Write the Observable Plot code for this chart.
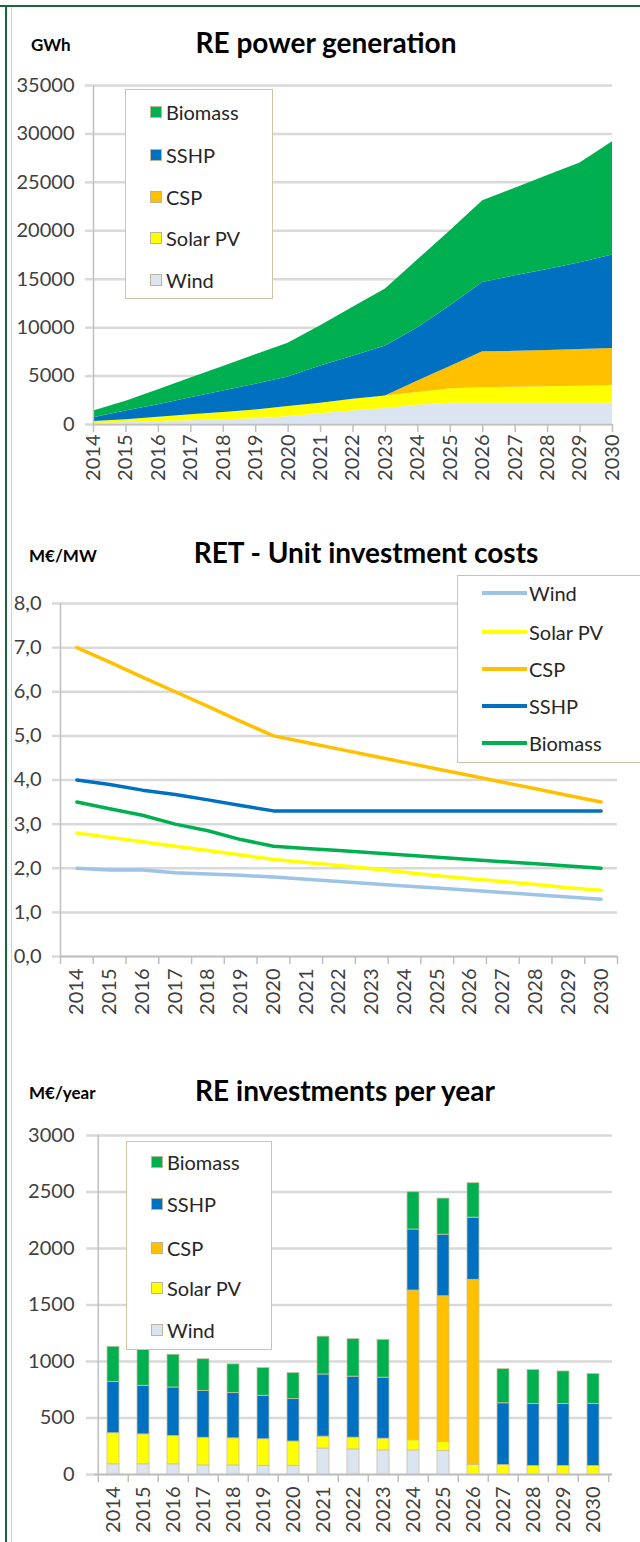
<!DOCTYPE html>
<html><head><meta charset="utf-8">
<script src="https://cdn.jsdelivr.net/npm/d3@7"></script>
<script src="https://cdn.jsdelivr.net/npm/@observablehq/plot@0.6"></script>
<style>
body{margin:0;background:#fff;}
#page{position:relative;width:640px;height:1542px;overflow:hidden;font-family:Lato,"Open Sans",sans-serif;background:#fff;}
.abs{position:absolute;}
.title{position:absolute;font-weight:bold;font-size:28px;color:#000;white-space:nowrap;transform:translate(-50%,-50%);}
.unit{position:absolute;font-weight:bold;font-size:17px;color:#000;white-space:nowrap;transform:translateY(-50%);}
.legend{position:absolute;background:#fff;border:1.5px solid #cdc5a3;box-sizing:border-box;}
.item{position:absolute;font-size:20px;color:#262626;transform:translateY(-50%);display:flex;align-items:center;white-space:nowrap;}
.sw{width:12px;height:12px;box-sizing:border-box;border:1px solid #bdb59a;margin-right:4px;}
.ln{width:45px;height:4px;margin-right:2px;}
.plot{position:absolute;left:0;}
</style></head><body><div id="page"></div>
<script>
// ---------- data ----------
const years = [2014,2015,2016,2017,2018,2019,2020,2021,2022,2023,2024,2025,2026,2027,2028,2029,2030];
const series = ["Wind","Solar PV","CSP","SSHP","Biomass"];
const fillColors = ["#dbe5f1","#ffff00","#ffc000","#0070c0","#00b050"];
const lineColors = ["#9dc3e6","#ffff00","#ffc000","#0070c0","#00b050"];

// RE power generation (GWh), per technology (stacked)
const genWind     = [100,200,300,400,500,600,800,1100,1400,1650,2000,2200,2200,2200,2200,2200,2200];
const genSolarPV  = [200,300,450,600,750,900,1050,1100,1200,1300,1300,1500,1600,1650,1700,1750,1800];
const genCSP      = [0,0,0,0,0,0,0,0,0,0,1200,2300,3700,3700,3750,3800,3850];
const genSSHP     = [400,900,1300,1750,2200,2650,3050,3850,4450,5150,5500,6250,7150,7800,8350,8950,9650];
const genBiomass  = [700,1000,1550,2050,2550,3050,3500,4150,5050,5900,7000,7750,8450,9050,9700,10300,11700];
const genTicks = [0,5000,10000,15000,20000,25000,30000,35000];

// RET unit investment costs (M€/MW)
const costWind    = [2.0,1.96,1.96,1.9,1.87,1.84,1.8,1.75,1.7,1.65,1.6,1.55,1.5,1.45,1.4,1.35,1.3];
const costSolarPV = [2.8,2.7,2.6,2.5,2.4,2.3,2.2,2.13,2.06,1.99,1.91,1.83,1.76,1.7,1.63,1.56,1.5];
const costCSP     = [7.0,6.67,6.33,6.0,5.67,5.33,5.0,4.85,4.7,4.55,4.4,4.25,4.1,3.95,3.8,3.65,3.5];
const costSSHP    = [4.0,3.9,3.77,3.67,3.55,3.42,3.3,3.3,3.3,3.3,3.3,3.3,3.3,3.3,3.3,3.3,3.3];
const costBiomass = [3.5,3.35,3.2,3.0,2.85,2.65,2.5,2.45,2.4,2.35,2.3,2.25,2.2,2.15,2.1,2.05,2.0];
const costTicks = [0,1,2,3,4,5,6,7,8];

// RE investments per year (M€/year), stacked
const invWind     = [90,90,90,80,80,77,77,230,222,213,213,207,0,0,0,0,0];
const invSolarPV  = [275,265,250,245,240,235,215,105,104,104,90,80,83,83,75,75,75];
const invCSP      = [0,0,0,0,0,0,0,0,0,0,1325,1290,1640,0,0,0,0];
const invSSHP     = [455,430,430,415,400,385,375,550,540,540,540,545,550,547,550,550,550];
const invBiomass  = [310,320,290,280,255,245,230,335,332,335,330,320,305,302,300,287,265];
const invTicks = [0,500,1000,1500,2000,2500,3000];

// ---------- helpers ----------
function tidy(arrs){
  const out=[];
  series.forEach((s,i)=>years.forEach((y,j)=>out.push({year:y,series:s,value:arrs[i][j]})));
  return out;
}
const gen = tidy([genWind,genSolarPV,genCSP,genSSHP,genBiomass]);
const cost = tidy([costWind,costSolarPV,costCSP,costSSHP,costBiomass]);
const inv = tidy([invWind,invSolarPV,invCSP,invSSHP,invBiomass]);

const page = document.getElementById("page");
function add(html){ const d=document.createElement("div"); d.innerHTML=html; while(d.firstChild) page.appendChild(d.firstChild); }
const gridStroke="#d9d9d9", axisStroke="#bfbfbf", labelColor="#404040";
const baseStyle = {fontFamily:"Lato, 'Open Sans', sans-serif", fontSize:"20px", color:labelColor, background:"transparent", overflow:"visible"};

// page border
add(`<div class="abs" style="left:0;top:5px;width:640px;height:2px;background:#17693a"></div>`);
add(`<div class="abs" style="left:5px;top:5px;width:2px;height:1537px;background:#17693a"></div>`);
add(`<div class="abs" style="left:11px;top:7px;width:1px;height:1535px;background:#d0d0d0"></div>`);

// ---------- Chart 1 : RE power generation ----------
const c1 = Plot.plot({
  width:640, height:450, marginTop:25, marginBottom:86, marginLeft:93, marginRight:28,
  style: baseStyle,
  x:{type:"linear", domain:[years[0], years[years.length-1]]},
  y:{domain:[0,35000]},
  color:{domain:series, range:fillColors},
  marks:[
    Plot.ruleY(genTicks, {stroke:gridStroke, strokeWidth:2.5}),
    Plot.areaY(gen, {x:"year", y:"value", fill:"series", order:series}),
    Plot.ruleX([years[0]], {stroke:axisStroke, strokeWidth:1.5}),
    Plot.ruleY([0], {stroke:axisStroke, strokeWidth:1.5}),
    Plot.axisY({ticks:genTicks, tickSize:8, tickPadding:11, tickFormat:d3.format("d"), stroke:gridStroke, strokeWidth:2.5, label:null}),
    Plot.axisX({ticks:years, tickSize:8, tickPadding:2, tickRotate:-90, tickFormat:d=>String(d), stroke:axisStroke, strokeWidth:1.5, label:null})
  ]
});
c1.classList.add("plot"); c1.style.top="60px"; page.appendChild(c1);
add(`<div class="unit" style="left:31px;top:44px">GWh</div>`);
add(`<div class="title" style="left:326px;top:42px">RE power generation</div>`);

function boxLegend(left, top, w, h, centers){
  let html = `<div class="legend" style="left:${left}px;top:${top}px;width:${w}px;height:${h}px"></div>`;
  const order = [4,3,2,1,0];
  order.forEach((k,i)=>{
    html += `<div class="item" style="left:${left+25}px;top:${centers[i]}px"><div class="sw" style="background:${fillColors[k]}"></div>${series[k]}</div>`;
  });
  add(html);
}
boxLegend(125, 89, 148, 210, [112,155,197,238,280]);

// ---------- Chart 2 : unit investment costs ----------
const half = years.map(y=>y-0.5).concat([years[years.length-1]+0.5]);
const c2 = Plot.plot({
  width:640, height:480, marginTop:23, marginBottom:104, marginLeft:60, marginRight:23,
  style: baseStyle,
  x:{type:"linear", domain:[half[0], half[half.length-1]]},
  y:{domain:[0,8]},
  color:{domain:series, range:lineColors},
  marks:[
    Plot.ruleY(costTicks, {stroke:gridStroke, strokeWidth:2.5}),
    Plot.ruleX([half[0]], {stroke:axisStroke, strokeWidth:1.5}),
    Plot.ruleY([0], {stroke:axisStroke, strokeWidth:1.5}),
    Plot.line(cost, {x:"year", y:"value", stroke:"series", strokeWidth:3.5}),
    Plot.axisY({ticks:costTicks, tickSize:8, tickPadding:11, tickFormat:d=>d.toFixed(1).replace(".",","), stroke:gridStroke, strokeWidth:2.5, label:null}),
    Plot.axisX({ticks:half, tickSize:8, tickFormat:()=>"", stroke:axisStroke, strokeWidth:1.5, label:null}),
    Plot.axisX({ticks:years, tickSize:0, tickPadding:12, tickRotate:-90, tickFormat:d=>String(d), label:null})
  ]
});
c2.classList.add("plot"); c2.style.top="580px"; page.appendChild(c2);
add(`<div class="unit" style="left:29px;top:555px">M€/MW</div>`);
add(`<div class="title" style="left:366px;top:552px">RET - Unit investment costs</div>`);
{
  let html = `<div class="legend" style="left:457px;top:575px;width:200px;height:188px"></div>`;
  const cy=[593,632,669,706,743];
  [0,1,2,3,4].forEach((k,i)=>{
    html += `<div class="item" style="left:482px;top:${cy[i]}px"><div class="ln" style="background:${lineColors[k]}"></div>${series[k]}</div>`;
  });
  add(html);
}

// ---------- Chart 3 : investments per year ----------
const W3=640, ML3=94, MR3=28;
const step3 = (W3-ML3-MR3)/years.length;
const c3 = Plot.plot({
  width:W3, height:432, marginTop:25, marginBottom:68, marginLeft:ML3, marginRight:MR3,
  style: baseStyle,
  x:{type:"band", domain:years, paddingInner:0.6, paddingOuter:0.3},
  y:{domain:[0,3000]},
  color:{domain:series, range:fillColors},
  marks:[
    Plot.ruleY(invTicks, {stroke:gridStroke, strokeWidth:2.5}),
    Plot.barY(inv, {x:"year", y:"value", fill:"series", order:series, stroke:"#c9c1a0", strokeWidth:0.8}),
    Plot.ruleX([years[0]], {dx:-step3/2, stroke:axisStroke, strokeWidth:1.5}),
    Plot.ruleY([0], {stroke:axisStroke, strokeWidth:1.5}),
    Plot.ruleX(years, {y1:0, y2:0, insetBottom:-8, dx:-step3/2, stroke:axisStroke, strokeWidth:1.5}),
    Plot.ruleX([years[years.length-1]], {y1:0, y2:0, insetBottom:-8, dx:step3/2, stroke:axisStroke, strokeWidth:1.5}),
    Plot.axisY({ticks:invTicks, tickSize:8, tickPadding:12, tickFormat:d3.format("d"), stroke:gridStroke, strokeWidth:2.5, label:null}),
    Plot.axisX({tickSize:0, tickPadding:12, tickRotate:-90, tickFormat:d=>String(d), label:null})
  ]
});
c3.classList.add("plot"); c3.style.top="1110px"; page.appendChild(c3);
add(`<div class="unit" style="left:29px;top:1092px">M€/year</div>`);
add(`<div class="title" style="left:345px;top:1090px">RE investments per year</div>`);
boxLegend(126, 1141, 146, 209, [1162,1204,1248,1288,1330]);
</script></body></html>
